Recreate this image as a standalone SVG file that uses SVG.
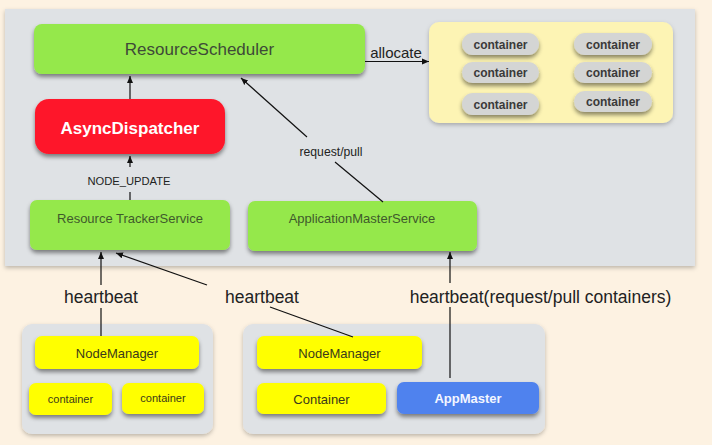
<svg xmlns="http://www.w3.org/2000/svg" width="712" height="445" viewBox="0 0 712 445">
<defs>
<filter id="sh" x="-10%" y="-20%" width="120%" height="160%">
<feDropShadow dx="0" dy="3" stdDeviation="2" flood-color="#000" flood-opacity="0.45"/>
</filter>
<filter id="shp" x="-5%" y="-5%" width="110%" height="115%">
<feDropShadow dx="0" dy="2" stdDeviation="2" flood-color="#000" flood-opacity="0.25"/>
</filter>
<marker id="ah" markerWidth="8" markerHeight="8" refX="7" refY="4" orient="auto" markerUnits="userSpaceOnUse">
<path d="M0,1 L7,4 L0,7 Z" fill="#111"/>
</marker>
</defs>
<style>
text{font-family:"Liberation Sans",Arial,Helvetica,sans-serif;text-anchor:middle}
.green{fill:#95e84b}
.gt{fill:#3f5a2b}
.yel{fill:#ffff00}
.yt{fill:#3a3a1a}
.pill{fill:#d4d5d4}
.pt{fill:#3a3a3a;font-weight:bold;font-size:12px}
.panel{fill:#dfe2e5}
.lbl{fill:#222}
.ln{stroke:#111;stroke-width:1.2;fill:none}
</style>
<rect width="712" height="445" fill="#fdf2e2"/>

<!-- panels -->
<g id="top-panel"><rect x="5" y="9" width="690" height="257" class="panel" filter="url(#shp)"/></g>
<g id="bottom-left-panel"><rect x="22" y="324" width="191" height="110" rx="10" class="panel" filter="url(#shp)"/></g>
<g id="bottom-right-panel"><rect x="243" y="324" width="302" height="110" rx="10" class="panel" filter="url(#shp)"/></g>

<g id="ResourceScheduler">
<rect x="34" y="24" width="331" height="50" rx="8" class="green" filter="url(#sh)"/>
<text x="199.5" y="55" font-size="17" fill="#3e4a38">ResourceScheduler</text>
</g>

<g id="AsyncDispatcher">
<rect x="35" y="99" width="190" height="55" rx="14" fill="#fe1629" filter="url(#sh)"/>
<text x="130" y="134" font-size="17" font-weight="bold" fill="#ffffff">AsyncDispatcher</text>
</g>

<g id="ResourceTrackerService">
<rect x="30" y="200" width="200" height="50" rx="7" class="green" filter="url(#sh)"/>
<text x="130" y="223" font-size="13" class="gt">Resource TrackerService</text>
</g>

<g id="ApplicationMasterService">
<rect x="248" y="201" width="229" height="50" rx="7" class="green" filter="url(#sh)"/>
<text x="362" y="223" font-size="13" class="gt">ApplicationMasterService</text>
</g>

<g id="container-pool">
<rect x="429" y="22" width="244" height="101" rx="10" fill="#fdf4b4" filter="url(#shp)"/>
<g id="pc1"><rect x="462" y="33" width="77" height="22" rx="11" class="pill" filter="url(#sh)"/><text x="500.5" y="48.5" class="pt">container</text></g>
<g id="pc2"><rect x="574" y="33" width="78" height="22" rx="11" class="pill" filter="url(#sh)"/><text x="613" y="48.5" class="pt">container</text></g>
<g id="pc3"><rect x="462" y="62" width="77" height="21" rx="10.5" class="pill" filter="url(#sh)"/><text x="500.5" y="77" class="pt">container</text></g>
<g id="pc4"><rect x="574" y="62" width="78" height="21" rx="10.5" class="pill" filter="url(#sh)"/><text x="613" y="77" class="pt">container</text></g>
<g id="pc5"><rect x="462" y="93" width="77" height="22" rx="11" class="pill" filter="url(#sh)"/><text x="500.5" y="108.5" class="pt">container</text></g>
<g id="pc6"><rect x="574" y="91" width="78" height="21" rx="10.5" class="pill" filter="url(#sh)"/><text x="613" y="106" class="pt">container</text></g>
</g>

<g id="NodeManager1">
<rect x="35" y="336" width="164" height="33" rx="7" class="yel" filter="url(#sh)"/>
<text x="117" y="357.5" font-size="13" class="yt">NodeManager</text>
</g>
<g id="container1">
<rect x="29" y="383" width="83" height="32" rx="7" class="yel" filter="url(#sh)"/>
<text x="70.5" y="403" font-size="11" class="yt">container</text>
</g>
<g id="container2">
<rect x="122" y="383" width="82" height="31" rx="7" class="yel" filter="url(#sh)"/>
<text x="163" y="402" font-size="11" class="yt">container</text>
</g>

<g id="NodeManager2">
<rect x="257" y="336" width="165" height="33" rx="7" class="yel" filter="url(#sh)"/>
<text x="339.5" y="357.5" font-size="13" class="yt">NodeManager</text>
</g>
<g id="Container3">
<rect x="257" y="383" width="129" height="31" rx="7" class="yel" filter="url(#sh)"/>
<text x="321.5" y="403.5" font-size="13" class="yt">Container</text>
</g>
<g id="AppMaster">
<rect x="397" y="382" width="142" height="32" rx="7" fill="#4f82ee" filter="url(#sh)"/>
<text x="468" y="402.5" font-size="13" font-weight="bold" fill="#f4f6ff">AppMaster</text>
</g>

<g id="connectors">
<line x1="130" y1="99" x2="130" y2="76" class="ln" marker-end="url(#ah)"/>
<line x1="130" y1="167" x2="130" y2="156" class="ln" marker-end="url(#ah)"/>
<line x1="130" y1="200" x2="130" y2="192" class="ln"/>
<line x1="383" y1="202" x2="335" y2="162" class="ln"/>
<line x1="307" y1="137" x2="241" y2="78" class="ln" marker-end="url(#ah)"/>
<line x1="365" y1="61.5" x2="429" y2="61.5" class="ln" marker-end="url(#ah)"/>
<line x1="101" y1="285" x2="101" y2="252" class="ln" marker-end="url(#ah)"/>
<line x1="101" y1="336" x2="101" y2="308" class="ln"/>
<line x1="207" y1="285" x2="116" y2="253" class="ln" marker-end="url(#ah)"/>
<line x1="353" y1="337" x2="270" y2="307" class="ln"/>
<line x1="450" y1="283" x2="450" y2="252" class="ln" marker-end="url(#ah)"/>
<line x1="450" y1="378" x2="450" y2="307" class="ln"/>
</g>

<g id="labels">
<text x="129" y="185" font-size="11.2" class="lbl">NODE_UPDATE</text>
<text x="331" y="156" font-size="12.2" class="lbl">request/pull</text>
<text x="396" y="58" font-size="15" class="lbl">allocate</text>
<text x="101" y="303" font-size="17.5" class="lbl">heartbeat</text>
<text x="262" y="303" font-size="17.5" class="lbl">heartbeat</text>
<text x="540.5" y="303" font-size="17.5" class="lbl">heartbeat(request/pull containers)</text>
</g>
</svg>
